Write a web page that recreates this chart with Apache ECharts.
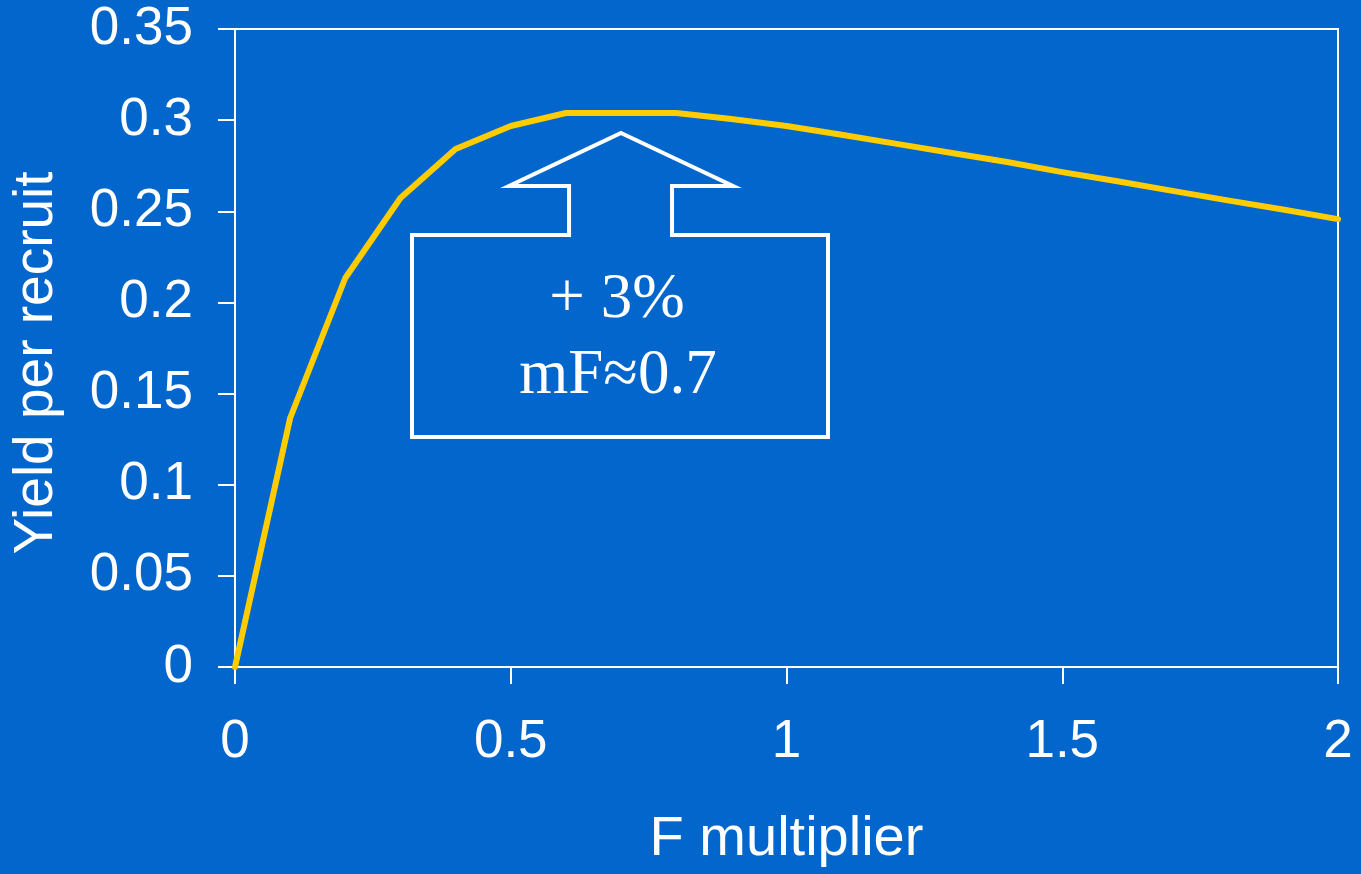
<!DOCTYPE html>
<html>
<head>
<meta charset="utf-8">
<style>
  html, body { margin: 0; padding: 0; background: #0366CC; }
  #chart { width: 1361px; height: 874px; }
</style>
<script src="https://cdn.jsdelivr.net/npm/echarts@6/dist/echarts.min.js"></script>
</head>
<body>
<div id="chart"></div>
<script>
// Yield per recruit against the fishing mortality multiplier
const fMultiplier = [0, 0.1, 0.2, 0.3, 0.4, 0.5, 0.6, 0.7, 0.8, 0.9, 1.0,
                     1.1, 1.2, 1.3, 1.4, 1.5, 1.6, 1.7, 1.8, 1.9, 2.0];
const yieldPerRecruit = [0, 0.1366, 0.2134, 0.2573, 0.2842, 0.2968, 0.3039, 0.3039, 0.3039, 0.3006, 0.2968,
                         0.2920, 0.2870, 0.2820, 0.2770, 0.2715, 0.2665, 0.2612, 0.2560, 0.2510, 0.2457];
const xTicks = [0, 0.5, 1, 1.5, 2];
const yTicks = [0, 0.05, 0.1, 0.15, 0.2, 0.25, 0.3, 0.35];
const noteLines = ['+ 3%', 'mF\u22480.7'];

const WHITE = '#ffffff';
const sans = '"Liberation Sans", Arial, sans-serif';
const serif = '"Liberation Serif", "Times New Roman", serif';

const chart = echarts.init(document.getElementById('chart'), null, { renderer: 'canvas' });

const option = {
  backgroundColor: '#0366CC',
  animation: false,
  grid: {
    left: 235, right: 23, top: 29, bottom: 207,
    show: true, borderColor: WHITE, borderWidth: 2, backgroundColor: 'transparent'
  },
  xAxis: {
    type: 'value',
    min: xTicks[0], max: xTicks[xTicks.length - 1], interval: 0.5,
    name: 'F multiplier',
    nameLocation: 'middle',
    nameGap: 145,
    nameTextStyle: { color: WHITE, fontFamily: sans, fontSize: 56 },
    axisLine: { show: true, onZero: false, lineStyle: { color: WHITE, width: 2 } },
    axisTick: { show: true, inside: false, length: 17, lineStyle: { color: WHITE, width: 2 } },
    axisLabel: { color: WHITE, fontFamily: sans, fontSize: 53, margin: 49,
                 formatter: v => String(v) },
    splitLine: { show: false }
  },
  yAxis: {
    type: 'value',
    min: yTicks[0], max: yTicks[yTicks.length - 1], interval: 0.05,
    axisLine: { show: true, onZero: false, lineStyle: { color: WHITE, width: 2 } },
    axisTick: { show: true, inside: false, length: 17, lineStyle: { color: WHITE, width: 2 } },
    axisLabel: { color: WHITE, fontFamily: sans, fontSize: 53, margin: 42,
                 formatter: v => String(+v.toFixed(2)) },
    splitLine: { show: false }
  },
  series: [{
    type: 'line',
    data: fMultiplier.map((f, i) => [f, yieldPerRecruit[i]]),
    symbol: 'none',
    smooth: false,
    lineStyle: { color: '#FFCC00', width: 6, cap: 'round', join: 'round' },
    z: 3
  }]
};
chart.setOption(option);

// Rotated y-axis title and the arrow-shaped callout pointing at the plateau
const tipX = chart.convertToPixel({ xAxisIndex: 0 }, 0.7);
chart.setOption({
  graphic: [
    {
      type: 'text', x: 37, y: 363, rotation: Math.PI / 2,
      style: { text: 'Yield per recruit', fill: WHITE, font: '55px ' + sans,
               textAlign: 'center', textVerticalAlign: 'middle' }
    },
    {
      type: 'polygon', z: 10,
      shape: { points: [
        [tipX, 133], [tipX + 112, 186], [tipX + 51, 186], [tipX + 51, 235],
        [828, 235], [828, 437], [412, 437], [412, 235],
        [tipX - 52, 235], [tipX - 52, 186], [tipX - 112, 186]
      ] },
      style: { fill: 'none', stroke: WHITE, lineWidth: 4, lineJoin: 'miter' }
    },
    {
      type: 'text', x: 617, y: 300, z: 11,
      style: { text: noteLines[0], fill: WHITE, font: '63px ' + serif,
               textAlign: 'center', textVerticalAlign: 'middle' }
    },
    {
      type: 'text', x: 618, y: 376, z: 11,
      style: { text: noteLines[1], fill: WHITE, font: '63px ' + serif,
               textAlign: 'center', textVerticalAlign: 'middle' }
    }
  ]
});
</script>
</body>
</html>
